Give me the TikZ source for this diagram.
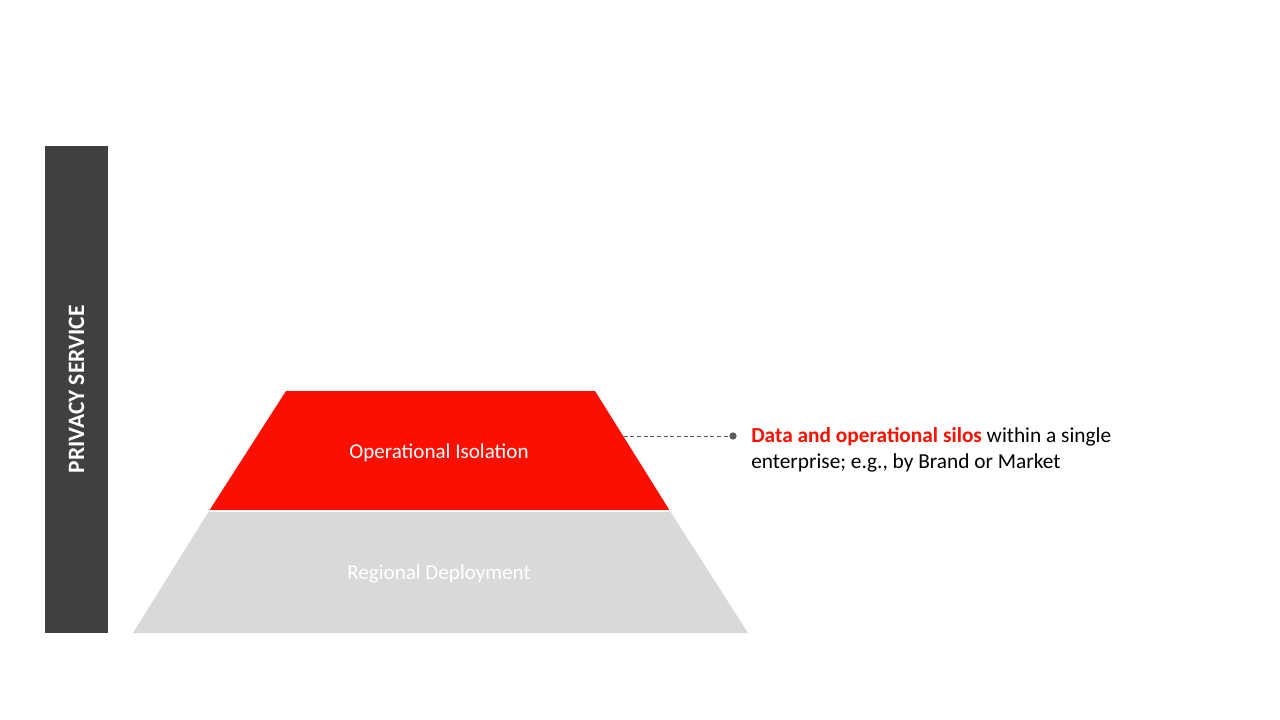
\documentclass[tikz,border=0pt]{standalone}
\usepackage{fontspec}
\setmainfont{Carlito}
\usetikzlibrary{calc}
\definecolor{barDark}{HTML}{404040}
\definecolor{layerRed}{HTML}{FA0F00}
\definecolor{layerGray}{HTML}{D9D9D9}
\definecolor{leaderGray}{HTML}{595959}
\begin{document}
\begin{tikzpicture}[x=0.75pt,y=-0.75pt,
  layertext/.style={text=white,font=\fontsize{15.8}{19}\selectfont},
  leader/.style={draw=leaderGray,densely dashed,line width=0.5pt},
  dotmark/.style={circle,fill=leaderGray,inner sep=0pt,minimum size=5.5pt}]
\useasboundingbox (0,0) rectangle (1280,720);
% side banner
\fill[barDark] (45,146) rectangle (108,633);
\node[rotate=90,text=white,font=\bfseries\fontsize{17.6}{20}\selectfont] (banner) at (76.5,389.5) {PRIVACY SERVICE};
% pyramid layers
\fill[layerGray] (209,511) -- (670,511) -- (748,633) -- (133,633) -- cycle;
\fill[layerRed] (286,391) -- (595,391) -- (670,511) -- (209,511) -- cycle;
\draw[white,line width=0.8pt] (209,511) -- (670,511);
\node[layertext] (top) at (439,452.5) {Operational Isolation};
\node[layertext] (base) at (439,573.5) {Regional Deployment};
% callout
\coordinate (edge) at (623.5,436);
\node[dotmark] (dot) at (733,436) {};
\draw[leader] (edge) -- (dot);
\node[anchor=north west,align=left,inner sep=0pt,font=\fontsize{16}{19.5}\selectfont] (note) at (751,427)
  {\textcolor{layerRed}{\bfseries Data and operational silos} within a single\\enterprise; e.g., by Brand or Market};
\end{tikzpicture}
\end{document}
